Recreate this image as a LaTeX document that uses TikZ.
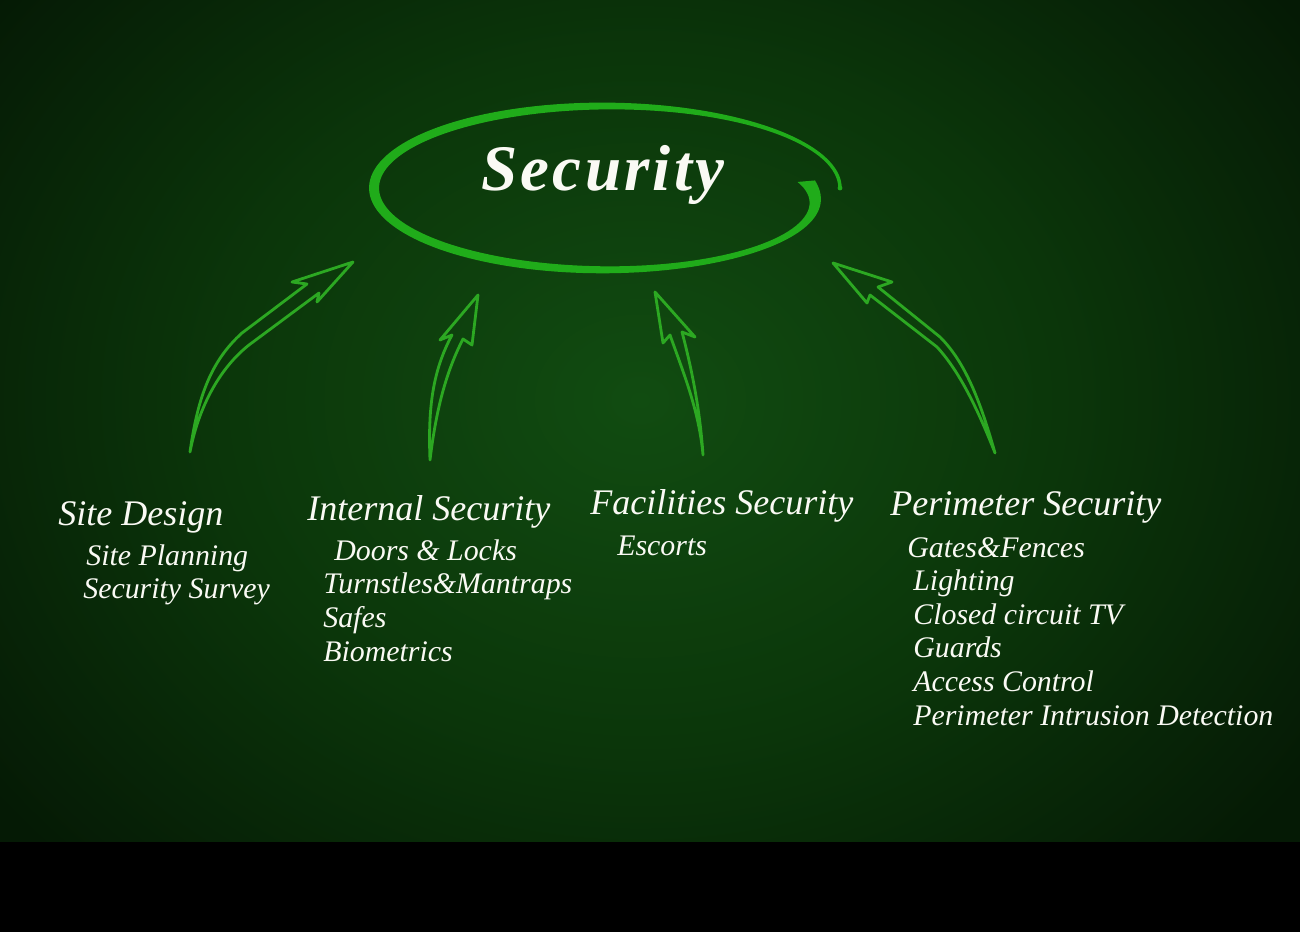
\documentclass[tikz,border=0pt]{standalone}
\usepackage{fontspec}
\setmainfont{Liberation Serif}
\newfontfamily\titlefont[LetterSpace=5]{Liberation Serif}
\definecolor{bgin}{RGB}{17,76,17}
\definecolor{bgmid}{RGB}{11,54,10}
\definecolor{bgout}{RGB}{5,26,5}
\definecolor{ring}{RGB}{32,172,26}
\definecolor{arrowg}{RGB}{44,168,34}
\definecolor{txt}{RGB}{250,250,244}
\pgfdeclareradialshading{bgshade}{\pgfpoint{0bp}{0bp}}{color(0bp)=(bgin); color(13bp)=(bgmid); color(25bp)=(bgout); color(50bp)=(bgout)}
\begin{document}
\begin{tikzpicture}[x=0.02cm,y=-0.02cm,
  declare function={
    ra(\t)=233-33*(\t/365)^10;
    rb(\t)=82-4*(\t/365)^10;
    wd(\t)=3.5+6.5*sin(\t/2)*sin(\t/2)+14*(\t/365)^14;
  },
  head/.style={anchor=base west, inner sep=0pt, text=txt, font=\itshape\fontsize{20.5}{24}\selectfont},
  item/.style={anchor=base west, inner sep=0pt, text=txt, font=\itshape\fontsize{17}{20}\selectfont},
  handarrow/.style={draw=arrowg, line width=1.6pt, line join=round, line cap=round}
]
\useasboundingbox (0,0) rectangle (1300,932);
% background
\begin{scope}
  \clip (0,0) rectangle (1300,842);
  \shade[shading=bgshade] (-170,-260) rectangle (1450,1060);
\end{scope}
\fill[black] (0,842) rectangle (1300,932);

% hand-drawn ellipse
\fill[ring] plot[domain=0:365,samples=160,variable=\t]
   ({607+(ra(\t)+wd(\t)/2)*cos(\t)},{188-(rb(\t)+wd(\t)/2)*sin(\t)})
  -- plot[domain=365:0,samples=160,variable=\t]
   ({607+(ra(\t)-wd(\t)/2)*cos(\t)},{188-(rb(\t)-wd(\t)/2)*sin(\t)}) -- cycle;
\fill[ring] (840,188) circle[radius=2.4];
\node[anchor=base, inner sep=0pt, text=txt, font=\titlefont\bfseries\itshape\fontsize{37}{42}\selectfont] (title) at (603,191) {Security};

% arrows
\draw[handarrow] (190,452) .. controls (198,395) and (212,360) .. (242,333) -- (307,284) -- (292,282) -- (353,262) -- (317,302) -- (319,293) -- (253,342) .. controls (225,362) and (200,400) .. (190,452) -- cycle;
\draw[handarrow] (430,460) .. controls (428,410) and (432,372) .. (452,335) -- (440,340) -- (478,295) -- (472,345) -- (463,339) .. controls (446,372) and (436,410) .. (430,460) -- cycle;
\draw[handarrow] (703,455) .. controls (700,410) and (692,370) .. (682,332) -- (695,337) -- (655,292) -- (663,343) -- (670,335) .. controls (683,372) and (699,410) .. (703,455) -- cycle;
\draw[handarrow] (995,453) .. controls (980,400) and (965,362) .. (940,337) -- (878,287) -- (892,282) -- (833,263) -- (867,303) -- (870,295) -- (937,347) .. controls (960,372) and (978,410) .. (995,453) -- cycle;

% columns
\node[head] (h1) at (58,525) {Site Design};
\node[item] (h1a) at (86,565) {Site Planning};
\node[item] (h1b) at (83,598) {Security Survey};

\node[head] (h2) at (307,520) {Internal Security};
\node[item] (h2a) at (334,560) {Doors \& Locks};
\node[item] (h2b) at (323,593) {Turnstles\&Mantraps};
\node[item] (h2c) at (323,627) {Safes};
\node[item] (h2d) at (323,661) {Biometrics};

\node[head] (h3) at (590,514) {Facilities Security};
\node[item] (h3a) at (617,555) {Escorts};

\node[head] (h4) at (890,515) {Perimeter Security};
\node[item] (h4a) at (907,557) {Gates\&Fences};
\node[item] (h4b) at (913,590) {Lighting};
\node[item] (h4c) at (913,624) {Closed circuit TV};
\node[item] (h4d) at (913,657) {Guards};
\node[item] (h4e) at (913,691) {Access Control};
\node[item] (h4f) at (913,725) {Perimeter Intrusion Detection};
\end{tikzpicture}
\end{document}
